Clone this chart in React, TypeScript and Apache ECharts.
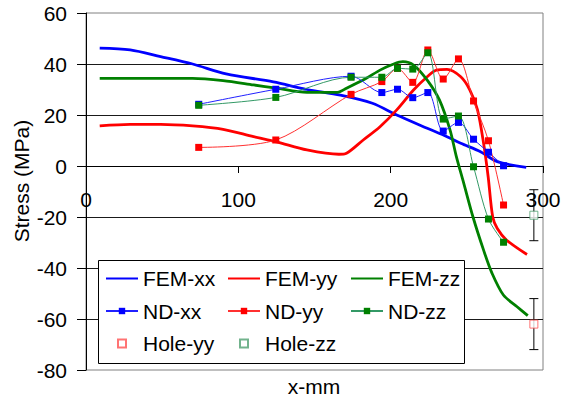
import React, { useEffect, useRef } from 'react';
import * as echarts from 'echarts';

// ---- data ----
const xTickValues = [0, 100, 200, 300];
const yTickValues = [-80, -60, -40, -20, 0, 20, 40, 60];

const femXX: [number, number][] = [
  [9, 46.2], [29, 45.5], [49, 42.9], [70, 40], [92, 36.1], [123, 33], [145, 30],
  [167, 27.8], [188, 24.6], [204, 20], [224, 14.8], [237, 11.5], [246, 8.9],
  [259, 5.6], [270, 1.7], [289, -0.5],
];
const femYY: [number, number][] = [
  [9, 15.7], [29, 16.3], [49, 16.3], [70, 15.7], [90, 14.4], [110, 11.5], [125, 9.5],
  [145, 6.3], [166, 4.6], [171, 5], [182, 10.2], [193, 15.4], [204, 22], [215, 29.8],
  [224, 35], [230, 37.6], [237, 37.9], [246, 35], [252, 29.8], [257, 22], [261, 8.9],
  [264, -4.2], [267, -20], [270, -24.5], [276, -29], [289.5, -34.7],
];
const femZZ: [number, number][] = [
  [9, 34.4], [30, 34.4], [50, 34.4], [70, 34.4], [90, 33.5], [110, 31.8], [125, 30.5],
  [145, 28.9], [165, 28.9], [171, 30.5], [184, 34.4], [193, 37.6], [202, 40],
  [208, 40.9], [215, 39.6], [224, 33.7], [232, 25.9], [239, 14.1], [243, 4],
  [248, -6.8], [254, -19.9], [261, -33], [266.5, -42], [274, -50.6], [283, -55.2],
  [290, -58.7],
];

const ndX = [74, 124.6, 174, 194.2, 204.5, 214.5, 224.4, 234.5, 244.5, 254.4, 264.2, 274.1];
const ndXX = [24.2, 30.1, 35.2, 28.8, 30.1, 26.8, 28.8, 13.7, 17.1, 10.5, 5.4, 0.1];
const ndYY = [7.3, 10.2, 28.1, 33.1, 38.3, 32.8, 45.5, 34.1, 42, 25.5, 9.9, -15.3];
const ndZZ = [23.8, 26.9, 34.8, 34.8, 38.3, 38, 44.4, 18.4, 19.6, -0.3, -20.8, -29.9];

const holeX = [294];
const holeYY = [-62];
const holeZZ = [-19.3];
const holeErr = [10];

const FONT = '"Liberation Sans", Arial, Helvetica, sans-serif';
const SQUARE = 'path://M0,0H10V10H0Z';

export default function App() {
  const ref = useRef<HTMLDivElement>(null);

  useEffect(() => {
    if (!ref.current) return;
    const chart = echarts.init(ref.current, undefined, { renderer: 'svg' });

    const pairs = (xs: number[], ys: number[]) => xs.map((x, i) => [x, ys[i]]);
    const errData = [
      ...holeX.map((x, i) => [x, holeYY[i] - holeErr[i], holeYY[i] + holeErr[i]]),
      ...holeX.map((x, i) => [x, holeZZ[i] - holeErr[i], holeZZ[i] + holeErr[i]]),
    ];

    const textStyle = { fontFamily: FONT, fontSize: 21, color: '#000' };
    const legendBase = {
      orient: 'vertical' as const,
      top: 268,
      itemGap: 11.5,
      itemWidth: 32,
      itemHeight: 8,
      selectedMode: false,
      textStyle,
      padding: 0,
    };
    const noSym = { opacity: 0 };

    // grid geometry: plot area from y=13 to y=370; the x axis line sits at value 0
    const gridTop = 13;
    const gridBottom = 29;
    const plotH = 399 - gridTop - gridBottom;
    const yMin = yTickValues[0];
    const yMax = yTickValues[yTickValues.length - 1];
    const zeroOffset = -plotH * (0 - yMin) / (yMax - yMin);

    chart.setOption({
      animation: false,
      backgroundColor: '#fff',
      grid: {
        left: 86, right: 18, top: gridTop, bottom: gridBottom,
        show: true, borderColor: '#808080', borderWidth: 1,
        outerBounds: { left: -2000, top: -2000, right: -2000, bottom: -2000 },
      },
      xAxis: {
        type: 'value',
        min: xTickValues[0],
        max: xTickValues[xTickValues.length - 1],
        interval: 100,
        position: 'bottom',
        offset: zeroOffset,
        axisLine: { onZero: false, lineStyle: { color: '#000', width: 1 } },
        axisTick: { show: true, inside: false, length: 7, lineStyle: { color: '#000' } },
        axisLabel: { margin: 23, ...textStyle },
        splitLine: { show: false },
      },
      yAxis: {
        type: 'value',
        min: yMin,
        max: yMax,
        interval: 20,
        axisLine: { show: true, onZero: false, lineStyle: { color: '#000', width: 1 } },
        axisTick: { show: true, inside: false, length: 9, lineStyle: { color: '#000' } },
        axisLabel: { margin: 19, ...textStyle },
        splitLine: { show: true, showMinLine: false, showMaxLine: false, lineStyle: { color: '#1a1a1a', width: 1 } },
      },
      graphic: [
        {
          type: 'rect',
          z: 3,
          shape: { x: 98.5, y: 260.5, width: 366, height: 103 },
          style: { fill: '#fff', stroke: '#000', lineWidth: 1 },
        },
        {
          type: 'text',
          x: 21,
          y: 181,
          rotation: Math.PI / 2,
          style: {
            text: 'Stress (MPa)',
            fontFamily: FONT,
            fontSize: 21,
            fill: '#000',
            align: 'center',
            verticalAlign: 'middle',
          },
        },
        {
          type: 'text',
          x: 314,
          y: 386,
          style: {
            text: 'x-mm',
            fontFamily: FONT,
            fontSize: 21,
            fill: '#000',
            align: 'center',
            verticalAlign: 'middle',
          },
        },
      ],
      legend: [
        { ...legendBase, left: 105, data: [{ name: 'FEM-xx', itemStyle: noSym }, 'ND-xx', { name: 'Hole-yy', icon: SQUARE }] },
        { ...legendBase, left: 227, data: [{ name: 'FEM-yy', itemStyle: noSym }, 'ND-yy', { name: 'Hole-zz', icon: SQUARE }] },
        { ...legendBase, left: 350, data: [{ name: 'FEM-zz', itemStyle: noSym }, 'ND-zz'] },
      ],
      series: [
        {
          name: 'FEM-xx', type: 'line', data: femXX, symbol: 'none', smooth: 0.3,
          lineStyle: { color: '#0000ff', width: 2.8 }, itemStyle: { color: '#0000ff' },
        },
        {
          name: 'FEM-yy', type: 'line', data: femYY, symbol: 'none', smooth: 0.3,
          lineStyle: { color: '#ff0000', width: 2.8 }, itemStyle: { color: '#ff0000' },
        },
        {
          name: 'FEM-zz', type: 'line', data: femZZ, symbol: 'none', smooth: 0.3,
          lineStyle: { color: '#008000', width: 2.8 }, itemStyle: { color: '#008000' },
        },
        {
          name: 'ND-xx', type: 'line', data: pairs(ndX, ndXX), symbol: 'rect', symbolSize: 7, smooth: 0.3,
          lineStyle: { color: '#2020ff', width: 1 }, itemStyle: { color: '#0000ff' },
        },
        {
          name: 'ND-yy', type: 'line', data: pairs(ndX, ndYY), symbol: 'rect', symbolSize: 7, smooth: 0.3,
          lineStyle: { color: '#ff3030', width: 1 }, itemStyle: { color: '#ff0000' },
        },
        {
          name: 'ND-zz', type: 'line', data: pairs(ndX, ndZZ), symbol: 'rect', symbolSize: 7, smooth: 0.3,
          lineStyle: { color: '#339966', width: 1 }, itemStyle: { color: '#008000' },
        },
        {
          name: 'errors', type: 'custom', data: errData,
          encode: { x: 0, y: [1, 2] },
          renderItem: (params: any, api: any) => {
            const x = api.value(0);
            const lo = api.coord([x, api.value(1)]);
            const hi = api.coord([x, api.value(2)]);
            const cap = 4.5;
            const st = { stroke: '#000', lineWidth: 1 };
            return {
              type: 'group',
              children: [
                { type: 'line', shape: { x1: hi[0], y1: hi[1], x2: lo[0], y2: lo[1] }, style: st },
                { type: 'line', shape: { x1: hi[0] - cap, y1: hi[1], x2: hi[0] + cap, y2: hi[1] }, style: st },
                { type: 'line', shape: { x1: lo[0] - cap, y1: lo[1], x2: lo[0] + cap, y2: lo[1] }, style: st },
              ],
            };
          },
        },
        {
          name: 'Hole-yy', type: 'scatter', data: pairs(holeX, holeYY), symbol: 'rect', symbolSize: 8,
          itemStyle: { color: '#fff', borderColor: '#ff5050', borderWidth: 1 },
        },
        {
          name: 'Hole-zz', type: 'scatter', data: pairs(holeX, holeZZ), symbol: 'rect', symbolSize: 8,
          itemStyle: { color: '#fff', borderColor: '#4fa070', borderWidth: 1 },
        },
      ],
    });

    return () => chart.dispose();
  }, []);

  return (
    <div
      ref={ref}
      style={{ position: 'absolute', left: 0, top: 0, width: 561, height: 399 }}
    />
  );
}
